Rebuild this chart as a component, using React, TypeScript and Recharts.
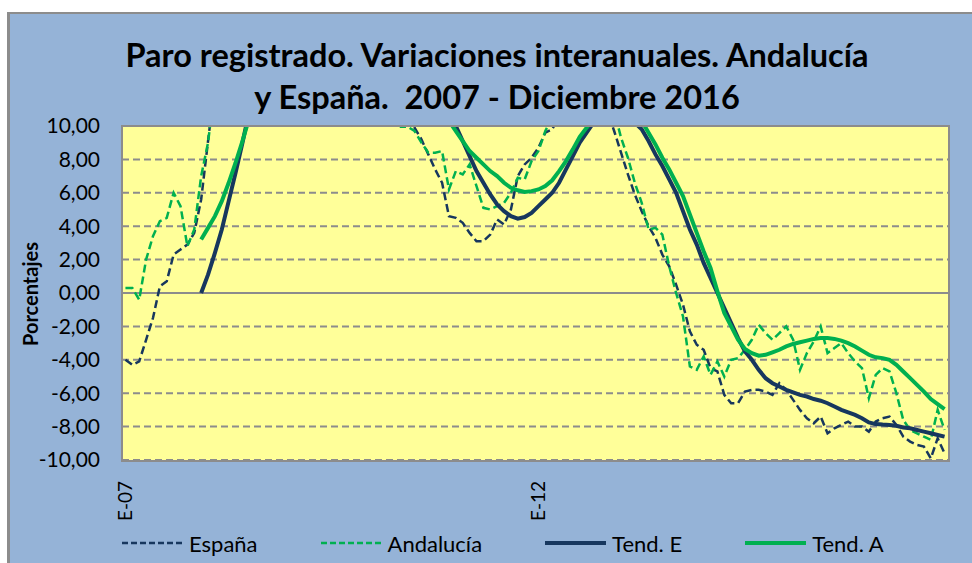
import { LineChart, Line, XAxis, YAxis, CartesianGrid, ReferenceLine } from "recharts";

// Etiquetas de meses (E-07 ... D-16)
const monthInitials = ["E", "F", "M", "A", "M", "J", "J", "A", "S", "O", "N", "D"];
const years = ["07", "08", "09", "10", "11", "12", "13", "14", "15", "16"];
const labels = years.flatMap((y) => monthInitials.map((m) => `${m}-${y}`));
const xTicks = [0, 60];
const yTicks = [-10, -8, -6, -4, -2, 0, 2, 4, 6, 8, 10];

// Variación interanual del paro registrado (%)
const espana = [
  -4.0, -4.3, -4.1, -2.8, -1.5, 0.4, 0.7, 2.3, 2.6, 2.9, 3.6, 5.6,
  9.1, 12.5, 15.4, 15.9, 17.3, 22.2, 25.4, 29.3, 32.2, 37.5, 41.6, 46.9,
  47.1, 50.4, 52.2, 55.8, 53.9, 51.9, 46.1, 43.6, 38.8, 33.1, 27.9, 25.4,
  18.8, 16.3, 14.2, 12.6, 11.9, 11.5, 9.9, 9.2, 8.3, 7.4, 6.6, 4.6,
  4.5, 4.2, 3.6, 3.1, 3.1, 3.5, 4.4, 4.1, 5.0, 7.0, 7.7, 8.1,
  8.7, 9.6, 9.8, 10.6, 11.3, 12.0, 12.5, 12.2, 12.0, 11.4, 10.9, 9.7,
  8.4, 7.1, 5.9, 4.9, 4.0, 3.3, 2.3, 1.6, 0.5, -0.7, -2.3, -3.1,
  -3.4, -4.5, -4.7, -6.1, -6.6, -6.6, -5.9, -5.8, -5.8, -5.9, -6.1, -5.4,
  -5.8, -6.4, -7.0, -7.5, -7.8, -7.4, -8.4, -8.1, -7.9, -7.7, -8.0, -8.0,
  -8.3, -7.7, -7.5, -7.4, -7.9, -8.6, -8.9, -9.1, -9.2, -9.9, -8.7, -9.6,
];

const andalucia = [
  0.3, 0.3, -0.4, 2.0, 3.4, 4.3, 4.5, 6.0, 5.2, 2.8, 3.8, 7.0,
  9.0, 12.4, 14.8, 15.6, 17.0, 20.5, 23.0, 26.4, 28.7, 32.5, 35.9, 39.6,
  40.0, 42.5, 44.0, 46.4, 44.2, 42.0, 37.2, 34.5, 30.6, 26.2, 22.0, 19.6,
  15.4, 13.6, 12.3, 10.9, 9.95, 9.95, 9.7, 9.0, 8.4, 8.4, 8.5, 6.2,
  7.3, 7.1, 7.7, 6.4, 5.1, 5.0, 5.2, 5.4, 6.0, 6.9, 6.8, 7.9,
  8.5, 9.7, 10.5, 11.5, 12.0, 12.3, 11.8, 12.1, 11.5, 11.0, 10.8, 10.9,
  9.3, 8.1, 6.6, 5.4, 3.8, 3.9, 3.5, 1.6, 0.0, -1.4, -4.4, -4.6,
  -3.8, -4.9, -4.1, -5.0, -4.0, -3.9, -3.4, -2.8, -1.9, -2.4, -2.8, -2.4,
  -2.0, -2.8, -4.6, -3.6, -2.9, -2.0, -3.6, -3.3, -3.0, -3.6, -4.1, -4.5,
  -6.3, -4.9, -4.5, -4.7, -6.0, -7.6, -8.2, -8.4, -8.6, -8.8, -7.0, -8.2,
];

const tendE = [
  null, null, null, null, null, null, null, null, null, null, null, 0.0,
  1.1, 2.4, 3.8, 5.5, 7.2, 9.0, 10.9, 13.0, 15.5, 18.3, 21.4, 24.8,
  28.2, 31.6, 34.8, 37.6, 40.0, 41.8, 42.9, 43.2, 42.7, 41.4, 39.4, 36.9,
  34.0, 31.0, 28.3, 25.8, 23.2, 20.8, 18.6, 16.7, 15.0, 13.5, 12.2, 11.0,
  10.0, 9.1, 8.2, 7.3, 6.6, 5.9, 5.3, 4.9, 4.6, 4.45, 4.55, 4.8,
  5.2, 5.6, 6.0, 6.6, 7.4, 8.2, 9.0, 9.6, 10.2, 10.8, 11.2, 11.3,
  11.1, 10.7, 10.2, 9.8, 9.1, 8.3, 7.6, 6.8, 6.0, 4.9, 3.8, 2.9,
  1.8, 0.9, 0.0, -0.9, -1.8, -2.7, -3.5, -4.0, -4.6, -5.1, -5.4, -5.6,
  -5.8, -5.95, -6.1, -6.2, -6.35, -6.45, -6.6, -6.8, -7.0, -7.15, -7.3, -7.5,
  -7.75, -7.85, -7.88, -7.9, -7.95, -8.05, -8.1, -8.2, -8.3, -8.4, -8.5, -8.6,
];

const tendA = [
  null, null, null, null, null, null, null, null, null, null, null, 3.2,
  3.9, 4.6, 5.5, 6.6, 7.8, 9.1, 10.5, 12.2, 14.2, 16.5, 19.0, 21.8,
  24.6, 27.4, 30.0, 32.3, 34.1, 35.4, 36.1, 36.2, 35.7, 34.6, 33.0, 31.0,
  28.8, 26.5, 24.2, 22.0, 19.9, 18.0, 16.3, 14.8, 13.4, 12.2, 11.2, 10.3,
  9.7, 9.1, 8.5, 8.1, 7.7, 7.3, 7.0, 6.6, 6.3, 6.15, 6.05, 6.1,
  6.2, 6.4, 6.75, 7.3, 7.9, 8.6, 9.35, 9.9, 10.4, 10.8, 11.0, 11.1,
  11.0, 10.8, 10.6, 10.3, 9.6, 8.9, 8.1, 7.4, 6.6, 5.8, 4.7, 3.6,
  2.5, 1.5, 0.1, -1.2, -2.0, -2.8, -3.35, -3.6, -3.75, -3.7, -3.55, -3.4,
  -3.2, -3.05, -2.95, -2.85, -2.75, -2.7, -2.7, -2.75, -2.85, -3.0, -3.2, -3.45,
  -3.7, -3.85, -3.9, -4.0, -4.3, -4.7, -5.1, -5.5, -5.9, -6.35, -6.65, -6.95,
];

const data = labels.map((label, i) => ({
  i,
  label,
  espana: espana[i],
  andalucia: andalucia[i],
  tendE: tendE[i],
  tendA: tendA[i],
}));

const NAVY = "#17375E";
const GREEN = "#00B050";
const FONT = "Lato, 'Open Sans', sans-serif";

const legendItems = [
  { name: "España", color: NAVY, dash: "6 3", width: 2.5 },
  { name: "Andalucía", color: GREEN, dash: "6 3", width: 2.5 },
  { name: "Tend. E", color: NAVY, dash: undefined, width: 4 },
  { name: "Tend. A", color: GREEN, dash: undefined, width: 4 },
];

function MonthTick({ x, y, payload }: any) {
  return (
    <text
      transform={`translate(${x + 7},${y + 21}) rotate(-90)`}
      textAnchor="end"
      fontSize={19}
      fontFamily={FONT}
      fill="#000"
    >
      {labels[payload.value]}
    </text>
  );
}

export default function App() {
  return (
    <div
      style={{
        position: "absolute",
        left: 0,
        top: 0,
        width: 972,
        height: 563,
        background: "#fff",
        overflow: "hidden",
        fontFamily: FONT,
      }}
    >
      <div
        style={{
          position: "absolute",
          left: 7,
          top: 12,
          width: 980,
          height: 560,
          background: "#95B3D7",
          borderLeft: "3px solid #8c8c8c",
          borderTop: "2px solid #8c8c8c",
          boxSizing: "border-box",
        }}
      />
      <div
        style={{
          position: "absolute",
          left: 0,
          width: 994,
          top: 34,
          textAlign: "center",
          fontWeight: 700,
          fontSize: 32.5,
          lineHeight: "42px",
          color: "#000",
        }}
      >
        Paro registrado. Variaciones interanuales. Andalucía
        <br />y España.&nbsp; 2007 - Diciembre 2016
      </div>
      <div
        style={{
          position: "absolute",
          left: 30,
          top: 294,
          transform: "translate(-50%, -50%) rotate(-90deg)",
          fontWeight: 700,
          fontSize: 20,
          whiteSpace: "nowrap",
          color: "#000",
        }}
      >
        Porcentajes
      </div>
      <div style={{ position: "absolute", left: 0, top: 0 }}>
        <LineChart
          width={972}
          height={563}
          data={data}
          margin={{ top: 126, right: 24, bottom: 13, left: 22 }}
        >
          <CartesianGrid
            horizontal
            vertical={false}
            stroke="#8c8c8c"
            strokeWidth={2}
            strokeDasharray="7 4"
            fill="#FFFF99"
            fillOpacity={1}
          />
          <XAxis
            dataKey="i"
            type="number"
            domain={[-0.5, 119.5]}
            ticks={xTicks}
            interval={0}
            height={90}
            tickSize={0}
            tickMargin={0}
            tickLine={false}
            axisLine={false}
            tick={<MonthTick />}
          />
          <YAxis
            domain={[-10, 10]}
            allowDataOverflow
            ticks={yTicks}
            interval={0}
            width={100}
            tickSize={0}
            tickMargin={22}
            tickLine={false}
            axisLine={false}
            tickFormatter={(v: number) => v.toFixed(2).replace(".", ",")}
            tick={{ fontSize: 21, fill: "#000", fontFamily: FONT }}
          />
          <ReferenceLine y={0} stroke="#8c8c8c" strokeWidth={2} />
          <Line
            dataKey="espana"
            stroke={NAVY}
            strokeWidth={2.5}
            strokeDasharray="8 4"
            dot={false}
            activeDot={false}
            isAnimationActive={false}
          />
          <Line
            dataKey="andalucia"
            stroke={GREEN}
            strokeWidth={2.5}
            strokeDasharray="8 4"
            dot={false}
            activeDot={false}
            isAnimationActive={false}
          />
          <Line
            dataKey="tendE"
            stroke={NAVY}
            strokeWidth={4}
            dot={false}
            activeDot={false}
            isAnimationActive={false}
          />
          <Line
            dataKey="tendA"
            stroke={GREEN}
            strokeWidth={4}
            dot={false}
            activeDot={false}
            isAnimationActive={false}
          />
        </LineChart>
      </div>
      <div
        style={{
          position: "absolute",
          left: 121,
          top: 125,
          width: 829,
          height: 337,
          border: "2px solid #8c8c8c",
          boxSizing: "border-box",
          pointerEvents: "none",
        }}
      />
      <div
        style={{
          position: "absolute",
          left: 122,
          top: 529,
          height: 28,
          display: "flex",
          alignItems: "center",
          fontSize: 22,
          color: "#000",
        }}
      >
        {legendItems.map((item) => (
          <div
            key={item.name}
            style={{ display: "flex", alignItems: "center", marginRight: 63 }}
          >
            <svg width={61} height={10}>
              <line
                x1={0}
                y1={5}
                x2={61}
                y2={5}
                stroke={item.color}
                strokeWidth={item.width}
                strokeDasharray={item.dash}
              />
            </svg>
            <span style={{ marginLeft: 6 }}>{item.name}</span>
          </div>
        ))}
      </div>
    </div>
  );
}
